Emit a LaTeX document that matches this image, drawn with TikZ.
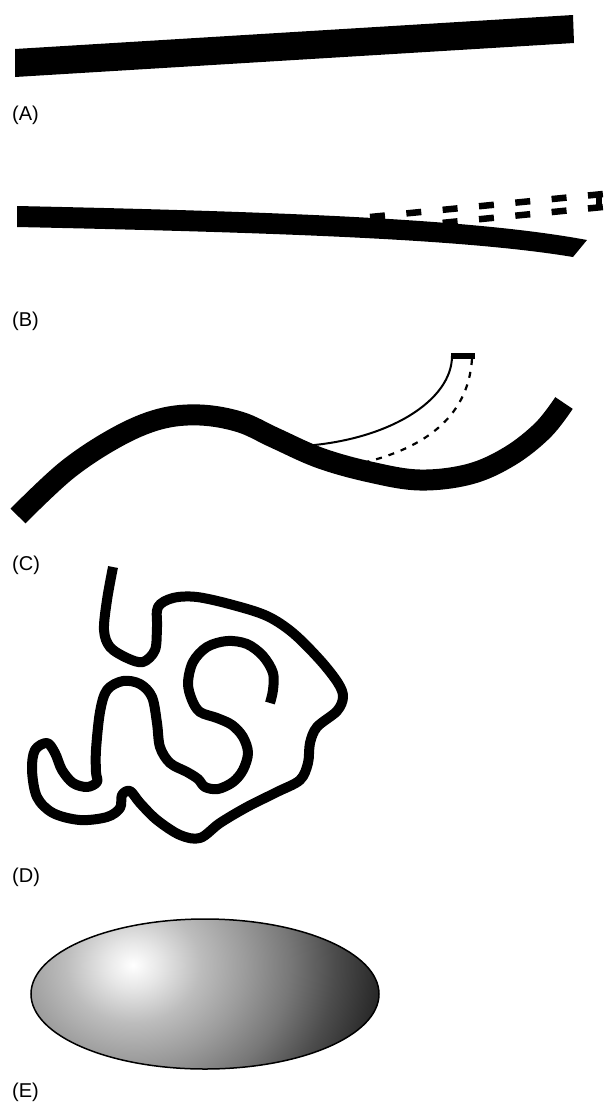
\documentclass[tikz,border=0pt]{standalone}
\usepackage{fontspec}
\newfontfamily\labfont{Liberation Sans}
\pgfdeclareradialshading{glow}{\pgfpointorigin}{rgb(0bp)=(1,1,1); rgb(2.5bp)=(0.9,0.9,0.9); rgb(6bp)=(0.74,0.74,0.74); rgb(10bp)=(0.61,0.61,0.61); rgb(14bp)=(0.47,0.47,0.47); rgb(18bp)=(0.3,0.3,0.3); rgb(22bp)=(0.16,0.16,0.16); rgb(25bp)=(0.1,0.1,0.1); rgb(50bp)=(0.1,0.1,0.1)}
\begin{document}
\begin{tikzpicture}[x=1pt,y=-1pt,
  lab/.style={font=\labfont\fontsize{20}{22}\selectfont, inner sep=0pt, anchor=west},
  thickbar/.style={line width=21pt, line cap=butt, line join=round},
  chain/.style={line width=10pt, line cap=butt, line join=round},
  dashbar/.style={line width=6.5pt, dash pattern=on 15pt off 21.5pt, line cap=butt}]
\useasboundingbox[fill=white] (0,0) rectangle (603,1106);

% (A)
\fill (15,49) -- (573,15) -- (574,43) -- (15,77) -- cycle;
\node[lab] (la) at (12,115) {(A)};

% (B)
\fill (17,206) .. controls (300,212) and (480,220) .. (587,240) -- (573,257)
  .. controls (470,240) and (300,233) .. (17,227) -- cycle;
\coordinate (bu1) at (370,217);
\coordinate (bu2) at (603,194);
\coordinate (bl1) at (370,230);
\coordinate (bl2) at (603,207);
\draw[dashbar] (bu1) -- (bu2);
\draw[dashbar] (bl1) -- (bl2);
\draw[line width=6pt] (599,194) -- (599,207);
\node[lab] (lb) at (12,321) {(B)};

% (C)
\draw[thickbar] plot[smooth, tension=0.6] coordinates {(18,516) (67,470) (117,437) (160,419) (200,415) (240,422) (275,438) (320,458) (370,472) (420,480) (470,474) (510,456) (543,430) (564,403)};
\coordinate (cs) at (303,446);
\coordinate (ct1) at (451,356);
\coordinate (ct2) at (473,356);
\coordinate (cd) at (358,464);
\draw[line width=2pt] (cs) .. controls (390,440) and (452,400) .. (452,356);
\draw[line width=2.2pt, dash pattern=on 6pt off 7pt] (472,359) .. controls (468,420) and (420,450) .. (cd);
\draw[line width=6pt] (ct1) -- ([xshift=2pt]ct2);
\node[lab] (lc) at (12,565) {(C)};

% (D)
\draw[chain] plot[smooth, tension=0.55] coordinates {(113,567) (107,600) (104,630) (110,647) (127,658) (143,662) (155,650) (157,627) (158,607) (173,598) (197,597) (233,605) (267,616) (293,633) (320,660) (338,683) (343,697) (337,711) (317,727) (310,743) (308,763) (300,780) (277,792) (247,807) (220,823) (200,838) (180,835) (157,820) (140,803) (130,791) (122,795) (120,808) (107,817) (80,820) (53,813) (37,797) (32,770) (35,750) (47,743) (55,753) (62,770) (73,783) (87,787) (97,782) (96,772) (96,750) (100,712) (107,690) (123,681) (140,684) (152,697) (157,723) (160,747) (170,763) (187,772) (198,779) (205,787) (218,789) (233,782) (243,770) (248,753) (243,737) (232,725) (217,718) (200,712) (192,700) (188,683) (193,662) (207,647) (227,641) (247,644) (263,656) (273,673) (273,690) (270,703)};
\node[lab] (ld) at (12,877) {(D)};

% (E)
\begin{scope}
  \clip (205,994) ellipse [x radius=174, y radius=75];
  \shade[shading=glow] (133,965) ellipse [x radius=280, y radius=240];
\end{scope}
\draw[line width=1.5pt] (205,994) ellipse [x radius=174, y radius=75];
\node[lab] (le) at (12,1092) {(E)};
\end{tikzpicture}
\end{document}
